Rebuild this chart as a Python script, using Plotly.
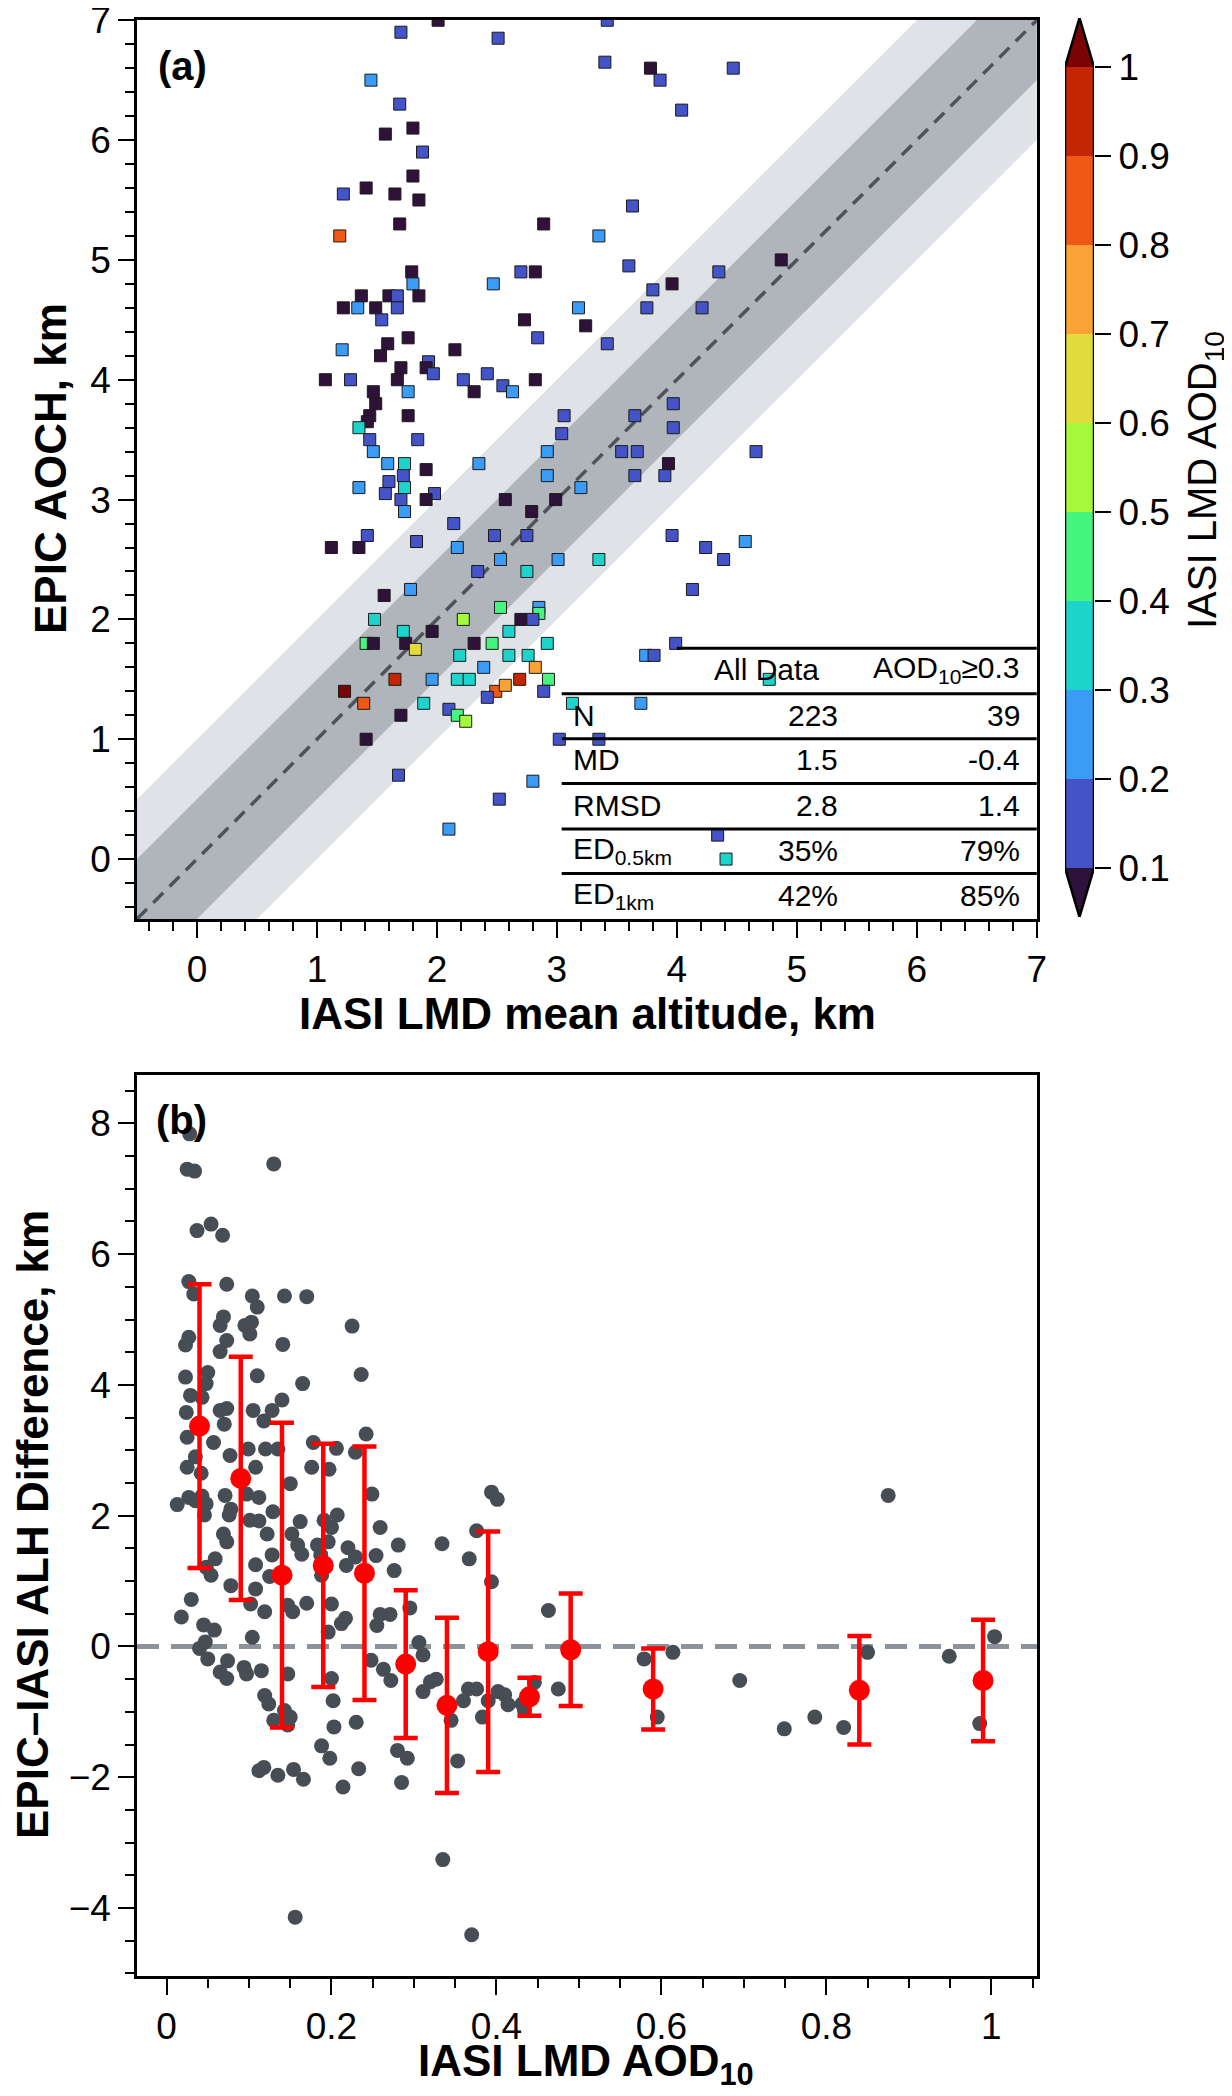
import plotly.graph_objects as go

# ---- panel (a): EPIC AOCH vs IASI LMD mean altitude, coloured by IASI AOD10
iasi_alt = [2.01, 1.70, 2.51, 3.42, 3.40, 3.78, 3.86, 4.47, 4.04, 1.45, 1.69, 1.57, 1.80, 1.88, 1.80,
            1.22, 1.41, 1.65, 1.85, 1.69, 2.89, 3.63, 1.19, 3.35, 3.60, 4.87, 1.79, 2.70, 2.82, 4.35,
            1.80, 2.47, 3.80, 3.96, 1.37, 1.60, 1.67, 1.85, 1.22, 1.34, 1.49, 1.67, 3.18, 3.75, 4.21,
            1.54, 2.73, 3.24, 1.76, 2.84, 3.42, 1.59, 1.21, 2.15, 1.53, 1.93, 1.70, 1.91, 1.97, 1.07,
            1.28, 1.67, 2.22, 2.42, 2.82, 2.55, 2.63, 2.31, 1.76, 1.47, 1.49, 3.97, 1.44, 1.42, 1.76,
            3.06, 3.65, 1.35, 3.97, 3.04, 1.44, 1.84, 1.47, 2.92, 3.54, 3.67, 4.66, 1.59, 1.73, 2.35,
            3.93, 1.91, 1.72, 1.60, 2.92, 3.65, 3.90, 1.35, 1.73, 3.20, 1.57, 1.98, 1.70, 1.91, 2.57,
            2.99, 1.73, 2.79, 2.14, 1.42, 2.48, 2.75, 3.96, 1.83, 4.57, 1.12, 1.35, 2.17, 4.24, 2.53,
            3.01, 3.35, 4.39, 2.75, 2.34, 1.78, 4.13, 1.56, 2.53, 2.85, 2.85, 1.48, 2.22, 2.70, 2.80,
            1.96, 1.72, 2.60, 1.41, 1.47, 1.74, 2.31, 2.46, 2.92, 3.99, 1.82, 2.19, 2.60, 2.76, 3.74,
            3.81, 2.39, 2.82, 1.23, 1.65, 1.96, 2.17, 2.27, 2.69, 2.93, 4.77, 1.39, 2.49, 2.57, 2.89,
            2.42, 1.89, 3.13, 3.70, 2.10, 2.17, 2.24, 1.70, 1.41, 3.02, 3.35, 1.68, 2.80, 2.52, 2.10,
            4.34, 4.41]
epic_aoch = [7.00, 6.90, 6.85, 7.00, 6.65, 6.60, 6.50, 6.60, 6.25, 6.50, 6.30, 6.05, 6.10, 5.90, 5.70,
             5.55, 5.60, 5.55, 5.50, 5.30, 5.30, 5.45, 5.20, 5.20, 4.95, 5.00, 4.90, 4.90, 4.90, 4.90,
             4.80, 4.80, 4.75, 4.80, 4.70, 4.70, 4.70, 4.70, 4.60, 4.60, 4.60, 4.60, 4.60, 4.60, 4.60,
             4.50, 4.50, 4.45, 4.35, 4.35, 4.30, 4.30, 4.25, 4.25, 4.20, 4.15, 4.10, 4.10, 4.05, 4.00,
             4.00, 4.00, 4.00, 4.05, 4.00, 3.95, 3.90, 3.90, 3.90, 3.90, 3.80, 3.80, 3.70, 3.65, 3.70,
             3.70, 3.70, 3.60, 3.60, 3.55, 3.50, 3.50, 3.40, 3.40, 3.40, 3.40, 3.40, 3.30, 3.30, 3.30,
             3.30, 3.25, 3.20, 3.15, 3.20, 3.20, 3.20, 3.10, 3.10, 3.10, 3.05, 3.05, 3.00, 3.00, 3.00,
             3.00, 2.90, 2.90, 2.80, 2.70, 2.70, 2.70, 2.70, 2.65, 2.65, 2.60, 2.60, 2.60, 2.60, 2.50,
             2.50, 2.50, 2.50, 2.40, 2.40, 2.25, 2.25, 2.20, 2.10, 2.10, 2.05, 2.00, 2.00, 2.00, 2.00,
             1.90, 1.90, 1.90, 1.80, 1.80, 1.80, 1.80, 1.80, 1.80, 1.80, 1.75, 1.70, 1.70, 1.70, 1.70,
             1.70, 1.60, 1.60, 1.40, 1.50, 1.50, 1.50, 1.50, 1.50, 1.50, 1.50, 1.30, 1.40, 1.45, 1.40,
             1.35, 1.30, 1.30, 1.30, 1.25, 1.20, 1.15, 1.20, 1.00, 1.00, 1.00, 0.70, 0.65, 0.50, 0.25,
             0.20, 0.00]
iasi_aod = [0.05, 0.15, 0.15, 0.15, 0.15, 0.05, 0.15, 0.15, 0.15, 0.25, 0.15, 0.05, 0.05, 0.15, 0.05,
            0.15, 0.05, 0.05, 0.05, 0.05, 0.05, 0.15, 0.85, 0.25, 0.15, 0.05, 0.05, 0.15, 0.05, 0.15,
            0.25, 0.25, 0.15, 0.05, 0.05, 0.05, 0.15, 0.05, 0.05, 0.25, 0.05, 0.15, 0.25, 0.15, 0.15,
            0.15, 0.05, 0.05, 0.05, 0.15, 0.15, 0.05, 0.25, 0.05, 0.05, 0.15, 0.05, 0.05, 0.15, 0.05,
            0.15, 0.05, 0.15, 0.15, 0.05, 0.15, 0.25, 0.05, 0.25, 0.05, 0.05, 0.15, 0.05, 0.05, 0.05,
            0.15, 0.15, 0.35, 0.15, 0.15, 0.15, 0.15, 0.25, 0.25, 0.15, 0.15, 0.15, 0.25, 0.35, 0.25,
            0.05, 0.05, 0.15, 0.15, 0.25, 0.15, 0.15, 0.25, 0.35, 0.25, 0.15, 0.15, 0.15, 0.05, 0.05,
            0.05, 0.25, 0.05, 0.15, 0.15, 0.15, 0.15, 0.15, 0.15, 0.25, 0.05, 0.05, 0.25, 0.15, 0.25,
            0.25, 0.35, 0.15, 0.35, 0.15, 0.25, 0.15, 0.05, 0.45, 0.25, 0.45, 0.35, 0.55, 0.05, 0.15,
            0.05, 0.35, 0.35, 0.45, 0.05, 0.05, 0.05, 0.45, 0.35, 0.15, 0.65, 0.35, 0.35, 0.35, 0.25,
            0.15, 0.25, 0.75, 1.05, 0.95, 0.25, 0.35, 0.35, 0.95, 0.45, 0.35, 0.85, 0.85, 0.75, 0.15,
            0.15, 0.35, 0.35, 0.25, 0.15, 0.45, 0.55, 0.05, 0.05, 0.15, 0.15, 0.15, 0.25, 0.15, 0.25,
            0.15, 0.35]

# colour classes: <0.1, 0.1-0.2, ..., 0.9-1.0, >1
class_edges = [0.1, 0.2, 0.3, 0.4, 0.5, 0.6, 0.7, 0.8, 0.9, 1.0]
class_colors = ["#2f1239", "#4454c8", "#3a9cf6", "#1dd4cc", "#46f57e", "#a4f93c",
                "#e1dc3c", "#fba236", "#ee5a16", "#c42503", "#7a0403"]
cb_ticklabels = ["0.1", "0.2", "0.3", "0.4", "0.5", "0.6", "0.7", "0.8", "0.9", "1"]

# table of statistics
stat_names = ["N", "MD", "RMSD", "ED<sub>0.5km</sub>", "ED<sub>1km</sub>"]
stat_all = ["223", "1.5", "2.8", "35%", "42%"]
stat_hi = ["39", "-0.4", "1.4", "79%", "85%"]

# ---- panel (b): EPIC - IASI difference vs AOD10
aod_b = [0.028, 0.025, 0.034, 0.130, 0.037, 0.054, 0.068, 0.027, 0.033, 0.073, 0.104, 0.110, 0.143, 0.170,
         0.069, 0.065, 0.095, 0.101, 0.103, 0.225, 0.027, 0.023, 0.073, 0.065, 0.141, 0.023, 0.050, 0.110,
         0.165, 0.236, 0.048, 0.029, 0.043, 0.140, 0.024, 0.065, 0.073, 0.105, 0.128, 0.042, 0.070, 0.118,
         0.242, 0.025, 0.057, 0.178, 0.206, 0.099, 0.120, 0.135, 0.229, 0.077, 0.035, 0.025, 0.108, 0.176,
         0.197, 0.042, 0.150, 0.027, 0.043, 0.071, 0.249, 0.097, 0.112, 0.394, 0.401, 0.013, 0.035, 0.048,
         0.078, 0.046, 0.076, 0.129, 0.207, 0.101, 0.112, 0.162, 0.191, 0.200, 0.259, 0.122, 0.152, 0.069,
         0.073, 0.159, 0.183, 0.196, 0.220, 0.281, 0.334, 0.376, 0.128, 0.164, 0.187, 0.229, 0.254, 0.367,
         0.059, 0.048, 0.218, 0.108, 0.276, 0.054, 0.125, 0.188, 0.078, 0.394, 0.108, 0.102, 0.170, 0.200,
         0.295, 0.463, 0.030, 0.119, 0.147, 0.153, 0.018, 0.217, 0.212, 0.259, 0.271, 0.045, 0.058, 0.196,
         0.255, 0.104, 0.306, 0.047, 0.040, 0.311, 0.050, 0.248, 0.074, 0.614, 0.579, 0.850, 0.949, 1.004,
         0.065, 0.094, 0.073, 0.097, 0.115, 0.147, 0.263, 0.272, 0.200, 0.320, 0.327, 0.366, 0.376, 0.402,
         0.410, 0.446, 0.475, 0.311, 0.390, 0.414, 0.431, 0.434, 0.695, 0.119, 0.124, 0.202, 0.360, 0.143,
         0.146, 0.130, 0.150, 0.147, 0.345, 0.383, 0.595, 0.749, 0.786, 0.821, 0.986, 0.203, 0.230, 0.188,
         0.198, 0.280, 0.292, 0.353, 0.112, 0.118, 0.135, 0.154, 0.166, 0.214, 0.233, 0.285, 0.335, 0.156,
         0.370, 0.875]
diff_b = [7.84, 7.30, 7.27, 7.38, 6.36, 6.46, 6.29, 5.58, 5.39, 5.54, 5.36, 5.19, 5.36, 5.35,
          5.04, 4.91, 4.91, 4.78, 4.96, 4.90, 4.73, 4.61, 4.68, 4.51, 4.62, 4.12, 4.19, 4.14,
          4.02, 4.16, 4.02, 3.84, 3.81, 3.77, 3.58, 3.61, 3.64, 3.61, 3.61, 3.40, 3.40, 3.45,
          3.25, 3.20, 3.12, 3.12, 3.03, 3.02, 3.02, 3.02, 2.97, 2.92, 2.90, 2.74, 2.74, 2.74,
          2.71, 2.65, 2.49, 2.28, 2.30, 2.31, 2.33, 2.33, 2.28, 2.36, 2.25, 2.17, 2.23, 2.18,
          2.10, 2.01, 2.01, 2.06, 2.01, 1.93, 1.92, 1.91, 1.93, 1.82, 1.82, 1.72, 1.72, 1.72,
          1.60, 1.55, 1.55, 1.60, 1.51, 1.55, 1.57, 1.77, 1.40, 1.41, 1.40, 1.37, 1.39, 1.34,
          1.34, 1.21, 1.24, 1.25, 1.16, 1.09, 1.07, 1.09, 0.93, 0.99, 0.88, 0.65, 0.66, 0.65,
          0.59, 0.55, 0.72, 0.53, 0.63, 0.53, 0.45, 0.43, 0.35, 0.49, 0.49, 0.33, 0.25, 0.22,
          0.32, 0.14, 0.06, 0.07, -0.03, -0.13, -0.19, -0.21, -0.22, -0.09, -0.19, -0.09, -0.15, 0.15,
          -0.39, -0.32, -0.49, -0.42, -0.37, -0.42, -0.35, -0.52, -0.49, -0.54, -0.50, -0.65, -0.65, -0.69,
          -0.74, -0.55, -0.65, -0.69, -0.83, -0.89, -0.88, -0.98, -0.52, -0.75, -0.88, -0.83, -0.83, -0.98,
          -1.08, -1.13, -1.08, -1.20, -1.13, -1.08, -1.08, -1.26, -1.08, -1.24, -1.18, -1.23, -1.16, -1.52,
          -1.71, -1.59, -1.71, -1.75, -1.90, -1.85, -1.97, -1.88, -2.03, -2.15, -1.87, -2.08, -3.26, -4.14,
          -4.41, 2.31]

# binned means and standard deviations
bin_aod = [0.04, 0.09, 0.14, 0.19, 0.24, 0.29, 0.34, 0.39, 0.44, 0.49, 0.59, 0.84, 0.99]
bin_mean = [3.37, 2.57, 1.09, 1.24, 1.12, -0.27, -0.90, -0.08, -0.77, -0.05, -0.65, -0.67, -0.52]
bin_std = [2.17, 1.86, 2.33, 1.86, 1.94, 1.13, 1.34, 1.84, 0.29, 0.86, 0.62, 0.83, 0.93]

FONT = "Liberation Sans, Arial, sans-serif"
W, H = 1232, 2096
OFF = 8  # page body margin in the browser


def fx(px):
    return (px - OFF) / W


def fy(px):
    return 1 - (px - OFF) / H


# discrete colorscale from the classes (cmin 0, cmax 1.1)
n = len(class_colors)
cscale = []
for i, c in enumerate(class_colors):
    cscale.append([i / n, c])
    cscale.append([(i + 1) / n, c])

fig = go.Figure()

# +-1 km and +-0.5 km envelopes around the 1:1 line
lim = [-0.5, 7.0]
for off, col in [(1.0, "#dfe2e6"), (0.5, "#afb5ba")]:
    fig.add_trace(go.Scatter(
        x=[lim[0], lim[1], lim[1], lim[0], lim[0]],
        y=[lim[0] + off, lim[1] + off, lim[1] - off, lim[0] - off, lim[0] + off],
        fill="toself", fillcolor=col, line=dict(width=0), mode="lines",
        hoverinfo="skip", showlegend=False, xaxis="x", yaxis="y"))
fig.add_trace(go.Scatter(x=lim, y=lim, mode="lines",
                         line=dict(color="#4d5359", width=3.5, dash="14px,9px"),
                         showlegend=False, xaxis="x", yaxis="y"))

fig.add_trace(go.Scatter(
    x=iasi_alt, y=epic_aoch, mode="markers", showlegend=False, xaxis="x", yaxis="y",
    marker=dict(symbol="square", size=12, color=iasi_aod, colorscale=cscale,
                cmin=0.0, cmax=1.1, showscale=False,
                line=dict(color="#1a1a1a", width=1))))

# ---- hand-made colorbar with end triangles
ext = 0.055
fig.add_trace(go.Bar(x=[0] * 9, y=[0.1] * 9, base=class_edges[:-1], width=1,
                     marker=dict(color=class_colors[1:10], line=dict(width=0)),
                     showlegend=False, hoverinfo="skip", xaxis="x3", yaxis="y3"))
fig.add_trace(go.Scatter(x=[-0.5, 0.5, 0, -0.5],
                         y=[class_edges[0], class_edges[0], class_edges[0] - ext, class_edges[0]],
                         fill="toself", fillcolor=class_colors[0], line=dict(width=0),
                         mode="lines", showlegend=False, hoverinfo="skip", xaxis="x3", yaxis="y3"))
fig.add_trace(go.Scatter(x=[-0.5, 0.5, 0, -0.5],
                         y=[class_edges[-1], class_edges[-1], class_edges[-1] + ext, class_edges[-1]],
                         fill="toself", fillcolor=class_colors[-1], line=dict(width=0),
                         mode="lines", showlegend=False, hoverinfo="skip", xaxis="x3", yaxis="y3"))
fig.add_trace(go.Scatter(
    x=[-0.5, -0.5, 0, 0.5, 0.5, 0, -0.5],
    y=[class_edges[0], class_edges[-1], class_edges[-1] + ext, class_edges[-1],
       class_edges[0], class_edges[0] - ext, class_edges[0]],
    mode="lines", line=dict(color="black", width=2.5), showlegend=False,
    hoverinfo="skip", xaxis="x3", yaxis="y3"))

# ---- panel (b)
fig.add_trace(go.Scatter(x=aod_b, y=diff_b, mode="markers", showlegend=False,
                         marker=dict(color="#474d54", size=15), xaxis="x2", yaxis="y2"))
fig.add_trace(go.Scatter(x=bin_aod, y=bin_mean, mode="markers", showlegend=False,
                         marker=dict(color="#ff0000", size=21),
                         error_y=dict(type="data", array=bin_std, color="#ff0000",
                                      thickness=4.5, width=12),
                         xaxis="x2", yaxis="y2"))

shapes = [dict(type="line", xref="x2 domain", yref="y2", x0=0, x1=1, y0=0, y1=0,
               line=dict(color="#8b9299", width=5, dash="22px,12px"), layer="below")]

# table lines in panel (a)
row_lines = [1.76, 1.38, 1.005, 0.63, 0.25, -0.12]
for i, yl in enumerate(row_lines):
    shapes.append(dict(type="line", xref="x", yref="y", x0=4.0 if i == 0 else 3.04, x1=7.0,
                       y0=yl, y1=yl, line=dict(color="black", width=3)))

annotations = []
tfont = dict(family=FONT, size=30, color="black")
annotations.append(dict(x=4.75, y=1.58, xref="x", yref="y", text="All Data",
                        showarrow=False, font=tfont, xanchor="center"))
annotations.append(dict(x=6.88, y=1.58, xref="x", yref="y", text="AOD<sub>10</sub>\u22650.3",
                        showarrow=False, font=tfont, xanchor="right"))
row_y = [1.2, 0.83, 0.45, 0.07, -0.3]
for name, a, b, yy in zip(stat_names, stat_all, stat_hi, row_y):
    annotations.append(dict(x=3.12, y=yy, xref="x", yref="y", text=name, showarrow=False,
                            font=tfont, xanchor="left"))
    annotations.append(dict(x=5.36, y=yy, xref="x", yref="y", text=a, showarrow=False,
                            font=tfont, xanchor="right"))
    annotations.append(dict(x=6.88, y=yy, xref="x", yref="y", text=b, showarrow=False,
                            font=tfont, xanchor="right"))

annotations.append(dict(x=-0.34, y=6.62, xref="x", yref="y", text="<b>(a)</b>", showarrow=False,
                        font=dict(family=FONT, size=40, color="black"), xanchor="left"))
annotations.append(dict(x=-0.015, y=8.05, xref="x2", yref="y2", text="<b>(b)</b>", showarrow=False,
                        font=dict(family=FONT, size=40, color="black"), xanchor="left"))
annotations.append(dict(x=fx(1205), y=fy(480), xref="paper", yref="paper",
                        text="IASI LMD AOD<sub>10</sub>", showarrow=False, textangle=-90,
                        xanchor="center", yanchor="middle",
                        font=dict(family=FONT, size=40, color="black")))

# axis titles placed in paper coordinates
titlefont = dict(family=FONT, size=44, color="black")
axis_titles = [
    ("<b>IASI LMD mean altitude, km</b>", fx(587), fy(1013), 0),
    ("<b>EPIC AOCH, km</b>", fx(50), fy(469), -90),
    ("<b>IASI LMD AOD<sub>10</sub></b>", fx(586), fy(2064), 0),
    ("<b>EPIC\u2013IASI ALH Difference, km</b>", fx(32), fy(1525), -90),
]
for txt, xp, yp, ang in axis_titles:
    annotations.append(dict(x=xp, y=yp, xref="paper", yref="paper", text=txt, showarrow=False,
                            textangle=ang, xanchor="center", yanchor="middle", font=titlefont))

tickfont = dict(family=FONT, size=37, color="black")
axis_common = dict(showline=True, linecolor="black", linewidth=2.5, mirror=True,
                   ticks="outside", ticklen=16, tickwidth=2, tickcolor="black",
                   showgrid=False, zeroline=False, tickfont=tickfont, automargin=False,
                   ticklabeloverflow="allow")
minor_common = dict(ticks="outside", ticklen=9, tickwidth=1.5, tickcolor="black")

fig.update_layout(
    width=W, height=H, margin=dict(l=0, r=0, t=0, b=0, autoexpand=False),
    paper_bgcolor="white", plot_bgcolor="white",
    font=dict(family=FONT, color="black"),
    shapes=shapes, annotations=annotations, bargap=0,
    xaxis=dict(domain=[fx(137), fx(1037)], range=[-0.5, 7.002], anchor="y",
               tickvals=list(range(0, 8)), minor=dict(dtick=0.2, **minor_common),
               **axis_common),
    yaxis=dict(domain=[fy(919), fy(20)], range=[-0.5, 7.002], anchor="x",
               tickvals=list(range(0, 8)), minor=dict(dtick=0.2, **minor_common),
               **axis_common),
    xaxis2=dict(domain=[fx(137), fx(1037)], range=[-0.0358, 1.0554], anchor="y2",
                tickvals=[0, 0.2, 0.4, 0.6, 0.8, 1], ticktext=["0", "0.2", "0.4", "0.6", "0.8", "1"],
                minor=dict(dtick=0.05, **minor_common), **axis_common),
    yaxis2=dict(domain=[fy(1976), fy(1075)], range=[-5.04, 8.74], anchor="x2",
                tickvals=[-4, -2, 0, 2, 4, 6, 8], minor=dict(dtick=0.5, **minor_common),
                **axis_common),
    xaxis3=dict(domain=[fx(1065), fx(1094)], range=[-0.5, 0.5], anchor="y3", automargin=False,
                showticklabels=False, ticks="", showline=False, showgrid=False, zeroline=False),
    yaxis3=dict(domain=[fy(917), fy(18)], range=[class_edges[0] - ext, class_edges[-1] + ext],
                anchor="x3", side="right", tickvals=class_edges, ticktext=cb_ticklabels,
                ticks="outside", ticklen=16, tickwidth=2, tickcolor="black", automargin=False,
                showline=False, showgrid=False, zeroline=False, tickfont=tickfont),
)

fig.write_html("out.html")
